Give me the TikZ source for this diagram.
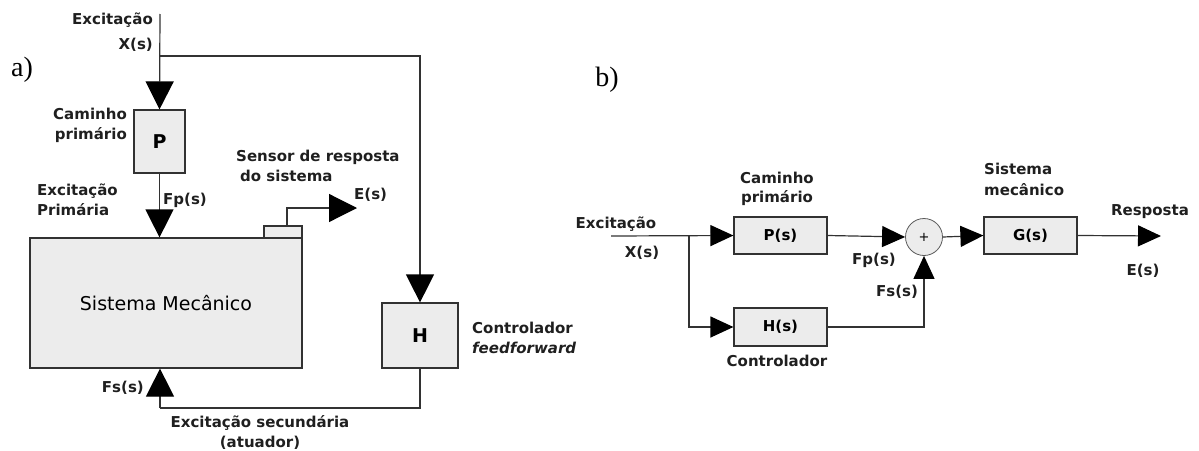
\documentclass[tikz,border=0pt]{standalone}
\usepackage{fontspec}
\setmainfont{DejaVu Sans}
\newfontfamily\serifletter{Liberation Serif}
\usetikzlibrary{arrows.meta}
\definecolor{boxfill}{RGB}{236,236,236}
\definecolor{edge}{RGB}{50,50,50}
\tikzset{
  blk/.style={draw=edge, fill=boxfill, line width=1.2pt, inner sep=0pt, font=\bfseries\fontsize{15}{18}\selectfont},
  lbl/.style={inner sep=0pt, font=\bfseries\fontsize{15}{20}\selectfont, text=black!88},
  bigarr/.style={draw=edge, line width=1.2pt, -{Triangle[length=28pt,width=28pt,color=black]}},
  smallarr/.style={draw=edge, line width=1.2pt, -{Triangle[length=23pt,width=21pt,color=black]}},
  wire/.style={draw=edge, line width=1.2pt},
  panel/.style={inner sep=0pt, font=\serifletter\fontsize{28}{28}\selectfont}
}
\begin{document}
\begin{tikzpicture}[x=1pt,y=-1pt]
\useasboundingbox (0,0) rectangle (1199,450);
% ---------- a) ----------
\node[panel] (la) at (22,70) {a)};
\coordinate (top) at (160,14);
\coordinate (ja) at (160,56);
\node[blk, minimum width=51pt, minimum height=63pt, font=\bfseries\fontsize{19}{19}\selectfont] (P) at (159.5,141.5) {P};
\node[blk, minimum width=272pt, minimum height=130pt, font=\fontsize{19}{19}\selectfont] (S) at (166,303) {Sistema Mecânico};
\node[blk, minimum width=38pt, minimum height=12pt] (sens) at (283,232) {};
\node[blk, minimum width=76pt, minimum height=65pt, font=\bfseries\fontsize{19}{19}\selectfont] (H) at (420,335.5) {H};
\coordinate (Eend) at (357,208);
\coordinate (ba) at (160,408);

\draw[bigarr] (top) -- (P.north);
\draw[bigarr] (ja) -| (H.north);
\draw[bigarr] (P.south) -- (P.south |- S.north);
\draw[bigarr] ([xshift=4pt]sens.north) |- (Eend);
\draw[wire] (H.south) |- (ba);
\draw[bigarr] (ba) -- (ba |- S.south);

\node[lbl, anchor=east] (ex1) at (153,20) {Excitação};
\node[lbl, anchor=east] (xs1) at (153,45) {X(s)};
\node[lbl, anchor=east, align=right] (cam1) at (127,125) {Caminho\\primário};
\node[lbl, anchor=west] (fp1) at (163,200) {Fp(s)};
\node[lbl, anchor=west, align=left] (exp1) at (37,200) {Excitação\\Primária};
\node[lbl, anchor=west, align=left] (sen1) at (236,166) {Sensor de resposta\\\hspace{4pt}do sistema};
\node[lbl, anchor=west] (es1) at (354,195) {E(s)};
\node[lbl, anchor=west, align=left] (ctl1) at (472,338) {Controlador\\\textit{feedforward}};
\node[lbl, anchor=east] (fs1) at (144,388) {Fs(s)};
\node[lbl, align=center] (exs1) at (260,432) {Excitação secundária\\(atuador)};

% ---------- b) ----------
\node[panel] (lb) at (607,80) {b)};
\coordinate (st) at (611,236);
\coordinate (jb) at (689,236);
\node[blk, minimum width=93pt, minimum height=37pt] (Ps) at (780.5,235.5) {P(s)};
\node[blk, minimum width=93pt, minimum height=38pt] (Hs) at (780.5,327) {H(s)};
\node[circle, draw=edge!80, fill=boxfill, line width=0.8pt, minimum size=37pt, inner sep=0pt, font=\fontsize{13}{13}\selectfont] (sum) at (924,237) {+};
\node[blk, minimum width=93pt, minimum height=37pt] (Gs) at (1030.5,235.5) {G(s)};
\coordinate (out) at (1161,236);

\draw[smallarr] (st) -- (Ps.west);
\draw[smallarr] (jb) |- (Hs.west);
\draw[smallarr] (Ps.east) -- (sum.west);
\draw[smallarr] (Hs.east) -| (sum.south);
\draw[smallarr] (sum.east) -- (Gs.west);
\draw[smallarr] (Gs.east) -- (out);

\node[lbl] (ex2) at (616,224) {Excitação};
\node[lbl] (xs2) at (642,253) {X(s)};
\node[lbl, align=center, font=\bfseries\fontsize{15}{18.5}\selectfont] (cam2) at (777,189) {Caminho\\primário};
\node[lbl] (ctl2) at (777,361) {Controlador};
\node[lbl] (fp2) at (874,260) {Fp(s)};
\node[lbl] (fs2) at (897,292) {Fs(s)};
\node[lbl, anchor=west, align=left, font=\bfseries\fontsize{15}{21}\selectfont] (sis2) at (984,179) {Sistema\\mecânico};
\node[lbl] (resp2) at (1150,212) {Resposta};
\node[lbl] (es2) at (1143,271) {E(s)};
\end{tikzpicture}
\end{document}
